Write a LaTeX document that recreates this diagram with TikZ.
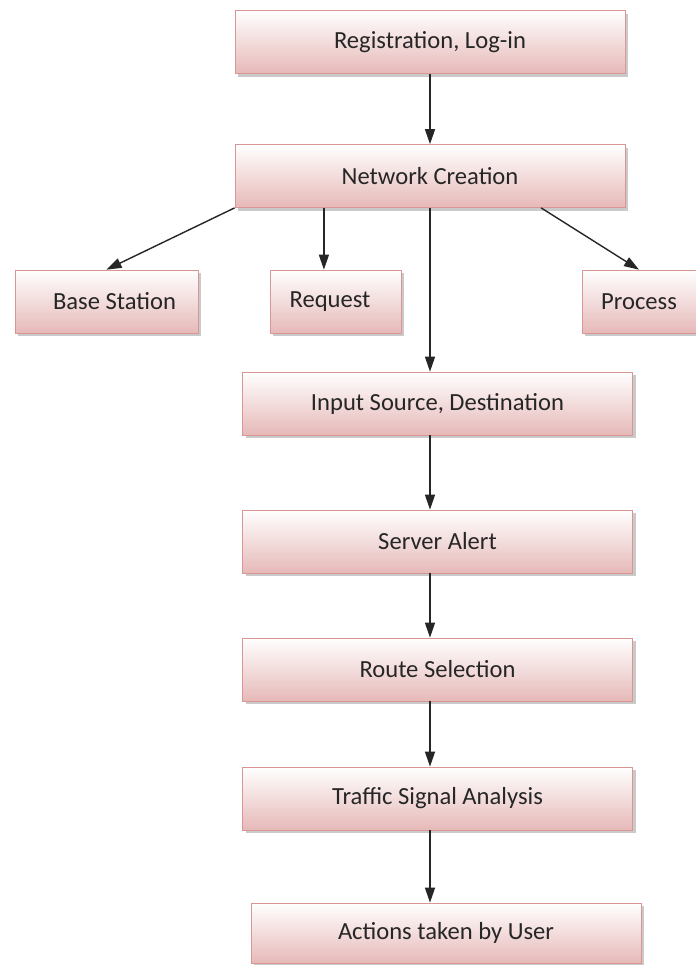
\documentclass[tikz,border=0pt]{standalone}
\usepackage{fontspec}
\setmainfont{Carlito}
\usetikzlibrary{arrows.meta,shadows}

\definecolor{boxline}{HTML}{D99694}
\definecolor{boxpink}{HTML}{E6B9B8}

\begin{document}
\begin{tikzpicture}[
        stage/.style={draw=boxline, top color=white, bottom color=boxpink, minimum height=1.26cm,
            font=\fontsize{14}{16}\selectfont, text=black!85,
            drop shadow={shadow xshift=0.06cm, shadow yshift=-0.06cm, fill=black!35, opacity=0.6}},
        wide/.style={stage, minimum width=7.8cm},
        link/.style={-{Triangle[length=0.3cm, width=0.2cm]}, thick, black!85}]
        \useasboundingbox (0,0) rectangle (13.92,-19.3);
        \node[wide] (reg) at (8.6,-0.84) {Registration, Log-in};
        \node[wide] (nc) at (8.6,-3.52) {Network Creation};
        \node[stage, minimum width=3.66cm] (base) at (2.13,-6.03) {\hspace*{0.32cm}Base Station};
        \node[stage, minimum width=2.62cm] (req) at (6.71,-6.03) {Request\hspace*{0.22cm}};
        \node[stage, minimum width=2.28cm] (proc) at (12.78,-6.03) {Process};
        \node[wide] (src) at (8.75,-8.07) {Input Source, Destination};
        \node[wide] (alert) at (8.75,-10.83) {Server Alert};
        \node[wide] (route) at (8.75,-13.39) {Route Selection};
        \node[wide] (sig) at (8.75,-15.97) {Traffic Signal Analysis};
        \node[wide, minimum height=1.2cm] (act) at (8.92,-18.66) {Actions taken by User};
        \draw[link] (reg) -- (nc);
        \draw[link] (nc.south west) -- (base.north);
        \draw[link] (nc.south -| req.110) -- (req.110);
        \draw[link] (nc.-16) -- (proc.north);
        \draw[link] (nc.south) -- (nc.south |- src.north);
        \draw[link] (nc.south |- src.south) -- (nc.south |- alert.north);
        \draw[link] (nc.south |- alert.south) -- (nc.south |- route.north);
        \draw[link] (nc.south |- route.south) -- (nc.south |- sig.north);
        \draw[link] (nc.south |- sig.south) -- (nc.south |- act.north);
    \end{tikzpicture}
\end{document}
